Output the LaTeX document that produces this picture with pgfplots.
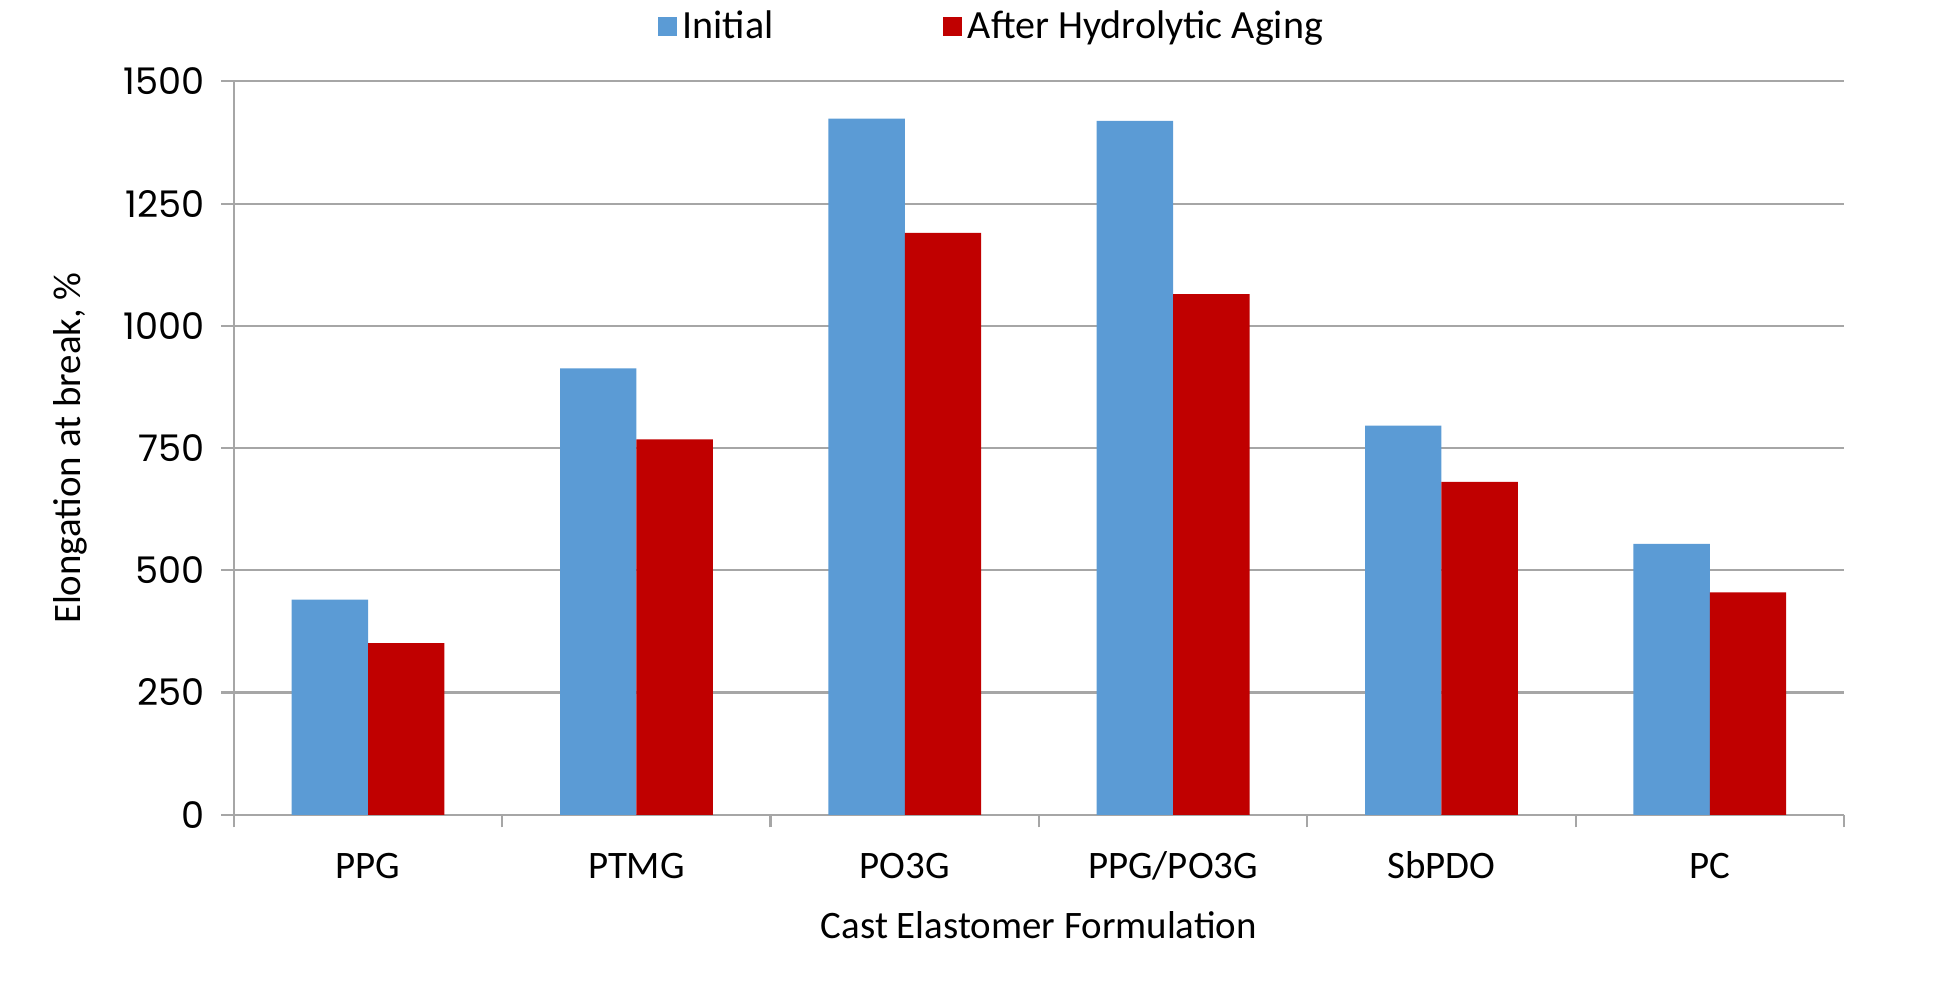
\documentclass[border=0pt]{standalone}
\usepackage{fontspec}
\setmainfont{Carlito}
\newfontfamily\tickfont{Poppins}
\usepackage{pgfplots}
\pgfplotsset{compat=1.18}

\definecolor{initblue}{HTML}{5B9BD5}
\definecolor{agedred}{HTML}{C00000}
\definecolor{gridgray}{HTML}{A6A6A6}

\begin{document}
\begin{tikzpicture}
\begin{axis}[
    name=ax,
    scale only axis,
    width=579.6pt, height=264pt,
    ybar=0pt, bar width=27.5pt,
    xmin=-0.5, xmax=5.5,
    ymin=0, ymax=1500,
    ytick={0,250,...,1500},
    xtick={0,1,2,3,4,5},
    xticklabels={PPG,PTMG,PO3G,PPG/PO3G,SbPDO,PC},
    minor xtick={-0.5,0.5,...,5.5},
    major x tick style={draw=none},
    minor tick length=4.5pt,
    major tick length=4.5pt,
    tick align=outside,
    axis x line*=bottom, axis y line*=left,
    axis line style={gridgray, line width=0.8pt},
    every tick/.style={gridgray, line width=0.8pt},
    ymajorgrids,
    grid style={gridgray, line width=0.8pt},
    /pgf/number format/assume math mode=true,
    /pgf/number format/1000 sep={},
    yticklabel style={font=\tickfont\fontsize{13.2}{15}\selectfont, text=black, xshift=-2.5pt},
    xticklabel style={font=\fontsize{14}{16}\selectfont, text height=10pt, text depth=3pt, yshift=-5pt},
    xlabel={Cast Elastomer Formulation},
    xlabel style={font=\fontsize{14}{16}\selectfont, at={(axis description cs:0.5,-0.15)}, anchor=center},
    ylabel={Elongation at break, \%},
    ylabel style={font=\fontsize{14}{16}\selectfont, at={(axis description cs:-0.1015,0.5)}, anchor=center},
    legend columns=2,
    legend style={draw=none, fill=none, at={(0.4715,1.075)}, anchor=center,
        font=\fontsize{14.4}{16}\selectfont,
        /tikz/every even column/.append style={column sep=59pt}},
    legend image code/.code={\fill[#1] (0pt,-3.5pt) rectangle (7pt,3.5pt);},
]
\addplot[fill=initblue, draw=none] coordinates {
    (0,440) (1,913) (2,1424) (3,1419) (4,796) (5,554)
};
\addplot[fill=agedred, draw=none] coordinates {
    (0,351) (1,768) (2,1190) (3,1065) (4,681) (5,455)
};
\legend{Initial, After Hydrolytic Aging}
\end{axis}
\pgfresetboundingbox
\path ([xshift=-84.2pt,yshift=-62.4pt]ax.south west) rectangle ([xshift=39.6pt,yshift=29.3pt]ax.north east);
\end{tikzpicture}
\end{document}
